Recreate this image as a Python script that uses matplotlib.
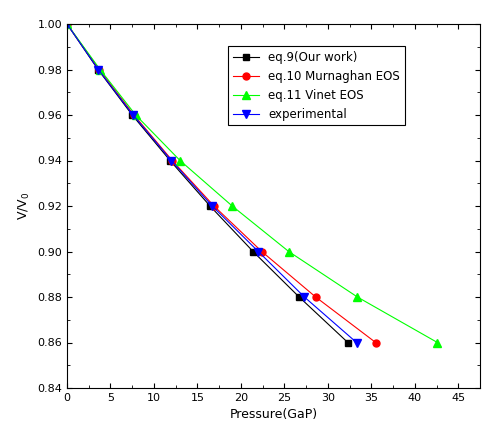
import matplotlib
matplotlib.use("Agg")
import matplotlib.pyplot as plt
from matplotlib.ticker import MultipleLocator

v = [1.00, 0.98, 0.96, 0.94, 0.92, 0.90, 0.88, 0.86]
p_eq9 = [0, 3.57, 7.5, 11.85, 16.45, 21.4, 26.7, 32.3]
p_eq10 = [0, 3.7, 7.7, 12.1, 16.9, 22.4, 28.6, 35.5]
p_eq11 = [0, 3.8, 7.9, 13.0, 19.0, 25.5, 33.4, 42.6]
p_exp = [0, 3.6, 7.6, 12.0, 16.7, 22.0, 27.3, 33.3]

fig = plt.figure(figsize=(4.82, 4.46), dpi=100)
ax = fig.add_axes([67/482, 1-388/446, (480-67)/482, (388-24)/446])
ax.plot(p_eq9, v, 's-', color='black', ms=5, lw=0.8, label='eq.9(Our work)')
ax.plot(p_eq10, v, 'o-', color='red', ms=5, lw=0.8, label='eq.10 Murnaghan EOS')
ax.plot(p_eq11, v, '^-', color='#00ff00', ms=6, lw=0.8, label='eq.11 Vinet EOS')
ax.plot(p_exp, v, 'v-', color='blue', ms=6, lw=0.8, label='experimental')
ax.set_xlim(0, 47.5)
ax.set_ylim(0.84, 1.00)
ax.xaxis.set_major_locator(MultipleLocator(5))
ax.xaxis.set_minor_locator(MultipleLocator(2.5))
ax.yaxis.set_major_locator(MultipleLocator(0.02))
ax.yaxis.set_minor_locator(MultipleLocator(0.01))
ax.tick_params(which='both', direction='in', top=True, right=True, labelsize=8)
ax.set_yticklabels([f"{t:.2f}" for t in ax.get_yticks()])
ax.set_xlabel('Pressure(GaP)', fontsize=9)
ax.set_ylabel('V/V$_0$', fontsize=9)
leg = ax.legend(loc='upper left', bbox_to_anchor=(0.376, 0.955), fontsize=8.5,
                fancybox=False, edgecolor='black', framealpha=1, handlelength=2.2)
leg.get_frame().set_linewidth(0.8)
fig.savefig('out.png', dpi=100)
